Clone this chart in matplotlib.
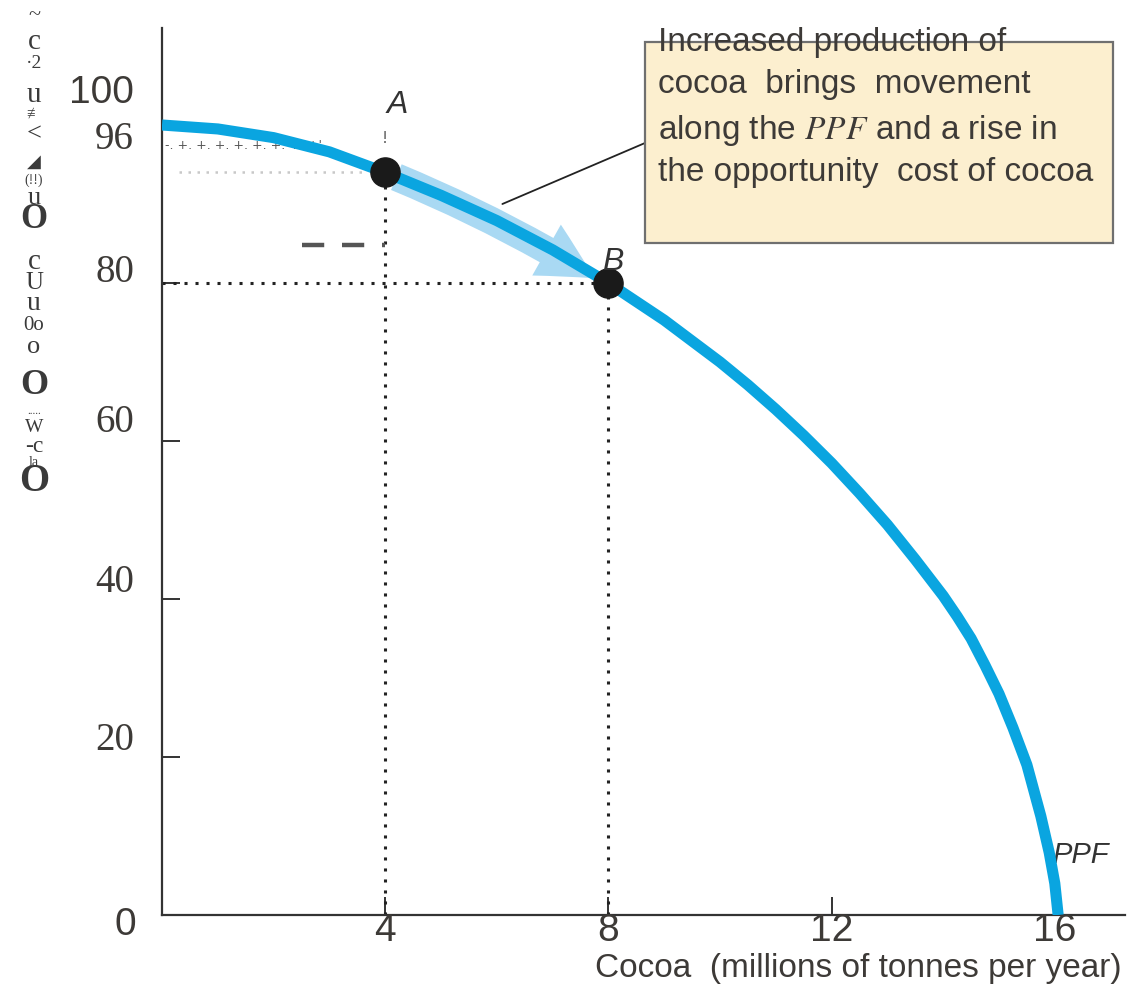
import matplotlib
matplotlib.use("Agg")
import matplotlib.pyplot as plt
from matplotlib.patches import Rectangle, FancyArrowPatch

plt.rcParams['mathtext.fontset'] = 'stix'

# ---------------- data ----------------
cocoa = [0, 1, 2, 3, 4, 5, 6, 7, 8, 9, 10, 10.5, 11, 11.5, 12, 12.5, 13, 13.5, 14,
         14.25, 14.5, 14.75, 15, 15.25, 15.5, 15.75, 15.9, 16, 16.06]
other_goods = [100, 99.5, 98.4, 96.6, 94.0, 91.1, 87.9, 84.2, 80.0, 75.3, 70.0,
               67.1, 64.0, 60.7, 57.2, 53.4, 49.4, 45.0, 40.4, 37.8, 35.0, 31.6,
               28.0, 23.7, 19.0, 12.5, 7.9, 4.0, 0]
point_labels = ['A', 'B']
point_x = [4, 8]
point_y = [94.0, 80]
x_ticks = [4, 8, 12, 16]
x_tick_labels = ['4', '8', '12', '16']
y_ticks = [20, 40, 60, 80]
y_label_vals = [0, 20, 40, 60, 80, 96, 100]
y_label_text = ['0', '20', '40', '60', '80', '96', '100']
x_title = 'Cocoa  (millions of tonnes per year)'
note_lines = ['Increased production of', 'cocoa  brings  movement',
              r'along the $\mathit{PPF}$ and a rise in',
              'the opportunity  cost of cocoa']
curve_name = 'PPF'
# garbled (scanned) vertical axis title, glyph by glyph
ytitle_glyphs = ['~', 'c', '·2', 'u', '≢', '<', '◢', '(!!)', 'u', 'O', 'c', 'U', 'u',
                 '0o', 'o', 'O', '.....', 'W', '-c', 'la', 'O']

# ---------------- layout ----------------
W, H = 1130, 992
fig = plt.figure(figsize=(W / 100, H / 100), dpi=100)
ax = fig.add_axes([162 / W, 77 / H, 963 / W, 887 / H])
ax.set_xlim(0, 963 / 55.8)
ax.set_ylim(0, 887 / 7.9)

for s in ['top', 'right']:
    ax.spines[s].set_visible(False)
for s in ['left', 'bottom']:
    ax.spines[s].set_color('#333333')
    ax.spines[s].set_linewidth(1.6)

ax.set_xticks(x_ticks)
ax.set_xticklabels([])
ax.set_yticks(y_ticks)
ax.set_yticklabels([])
ax.tick_params(direction='in', length=13, width=1.4, color='#333333')

BLUE = '#0aa5e0'
LIGHT = '#a9d9f3'
TXT = '#3d3a37'

# guide lines
dot = dict(color='#222222', lw=2.2, linestyle=(0, (1, 2.6)), zorder=2)
ax.plot([point_x[0], point_x[0]], [0, point_y[0]], **dot)
ax.plot([point_x[1], point_x[1]], [0, point_y[1]], **dot)
ax.plot([0, point_x[1]], [point_y[1], point_y[1]], **dot)
ax.plot([0.3, point_x[0] - 0.3], [point_y[0], point_y[0]], color='#c8c8c8', lw=1.8,
        linestyle=(0, (1, 2.6)), zorder=2)
ax.text(0.05, 97.4, "-. +. +. +. +. +. +. +. +'", fontsize=9, color='#555555',
        va='center', ha='left', zorder=2)
ax.text(point_x[0], 98.3, '!', fontsize=11, color='#555555', ha='center', va='center')
ax.plot([2.5, 4.0], [84.8, 84.8], color='#555555', lw=3.2, linestyle=(0, (5, 4)),
        zorder=2)

# arrow band along the curve
arr = FancyArrowPatch((4.2, 93.4), (7.75, 80.6), connectionstyle='arc3,rad=-0.04',
                      arrowstyle='simple,tail_width=20,head_width=42,head_length=40',
                      mutation_scale=1, shrinkA=0, shrinkB=0, color=LIGHT, lw=0,
                      zorder=3)
ax.add_patch(arr)

# PPF curve
ax.plot(cocoa, other_goods, color=BLUE, lw=8, solid_capstyle='butt',
        solid_joinstyle='round', zorder=4)

# points
ax.plot(point_x, point_y, 'o', color='#1a1a1a', markersize=21, zorder=5)
lab_off = [(4.21, 102.5), (8.08, 82.6)]
for lab, (lx, ly) in zip(point_labels, lab_off):
    ax.text(lx, ly, lab, fontsize=23, style='italic', color='#333333',
            family='Liberation Sans', ha='center', va='center', zorder=6)
ax.text(16.45, 7.6, curve_name, fontsize=21, style='italic', color='#333333',
        family='Liberation Sans', ha='center', va='center')

# tick labels
narrow = ['Liberation Sans Narrow', 'Liberation Sans']
for v, t in zip(x_ticks, x_tick_labels):
    ax.annotate(t, xy=(v, 0), xycoords='data', xytext=(0, -16),
                textcoords='offset pixels', ha='center', va='center',
                fontsize=28, color=TXT, family=narrow)
y_dy = {0: -10, 20: 17, 40: 17, 60: 18, 80: 11, 96: 17, 100: 32}
for v, t in zip(y_label_vals, y_label_text):
    fam = narrow if v in (0, 100) else 'Liberation Serif'
    xo = -37 if v == 0 else -28
    ha = 'center' if v == 0 else 'right'
    ax.annotate(t, xy=(0, v), xycoords=('axes fraction', 'data'), xytext=(xo, y_dy[v]),
                textcoords='offset pixels', ha=ha, va='center', fontsize=28,
                color=TXT, family=fam)

# x title
fig.text(1122 / W, 1 - 968 / H, x_title, ha='right', va='center', fontsize=24,
         color=TXT, family='Liberation Sans')

# annotation box
box = Rectangle((645 / W, 1 - 243 / H), (1113 - 645) / W, (243 - 42) / H,
                transform=fig.transFigure, facecolor='#fcefcf', edgecolor='#6f6f6f',
                lw=1.6, zorder=1)
fig.patches.append(box)
line_y = [42, 84, 131, 173]
for ly, t in zip(line_y, note_lines):
    fig.text(658 / W, 1 - ly / H, t, ha='left', va='center', fontsize=24,
             color=TXT, family='Liberation Sans', zorder=3)
ax.annotate('', xy=(6.1, 90.0), xycoords='data',
            xytext=(645 / W, 1 - 143 / H), textcoords='figure fraction',
            arrowprops=dict(arrowstyle='-', lw=1.3, color='#222222',
                            shrinkA=0, shrinkB=0))

# garbled vertical title
g_y = [16, 42, 63, 95, 114, 134, 162, 180, 198, 220, 262, 283, 303, 326, 347, 386,
       411, 427, 446, 462, 482]
g_size = [16, 21, 14, 21, 11, 19, 13, 10, 19, 25, 21, 18, 20, 15, 19, 26, 8, 14,
          17, 10, 28]
g_bold = {'O'}
for gy, gt, gs in zip(g_y, ytitle_glyphs, g_size):
    fig.text(34 / W, 1 - gy / H, gt, ha='center', va='center', fontsize=gs,
             color='#3a3a3a', family=['Liberation Serif', 'DejaVu Sans'],
             weight='bold' if gt in g_bold else 'normal')

fig.savefig('out.png', dpi=100)
